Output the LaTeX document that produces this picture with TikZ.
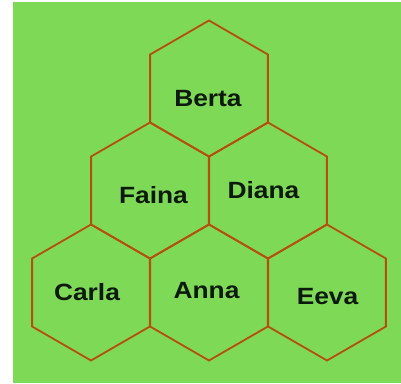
\documentclass[tikz,border=0pt]{standalone}
\usepackage{fontspec}
\setmainfont{Liberation Sans}
\usetikzlibrary{shapes.geometric}
\definecolor{bg}{HTML}{7ED957}
\definecolor{edge}{HTML}{B4500C}
\definecolor{ink}{HTML}{0C1A0C}
\begin{document}
\begin{tikzpicture}[x=1pt,y=-1pt,
  hexcell/.style={regular polygon, regular polygon sides=6, shape border rotate=30, minimum size=136pt, inner sep=0pt, draw=edge, line width=1.8pt, line join=miter},
  lab/.style={font=\fontsize{23.5}{23.5}\selectfont\bfseries, text=ink, inner sep=0pt, xscale=1.12}]
\useasboundingbox (0,0) rectangle (401,383);
\fill[white] (0,0) rectangle (401,383);
\fill[bg] (13,2) rectangle (401,383);
\node[hexcell] (hB) at (209,88.5) {};
\node[hexcell] (hF) at (150,190.5) {};
\node[hexcell] (hD) at (268,190.5) {};
\node[hexcell] (hC) at (91,292.5) {};
\node[hexcell] (hA) at (209,292.5) {};
\node[hexcell] (hE) at (327,292.5) {};
\node[lab] (tB) at (208,99) {Berta};
\node[lab] (tF) at (153.5,195) {Faina};
\node[lab] (tD) at (263.5,190) {Diana};
\node[lab] (tC) at (87,292) {Carla};
\node[lab] (tA) at (206.5,290.5) {Anna};
\node[lab] (tE) at (327.5,297) {Eeva};
\end{tikzpicture}
\end{document}
